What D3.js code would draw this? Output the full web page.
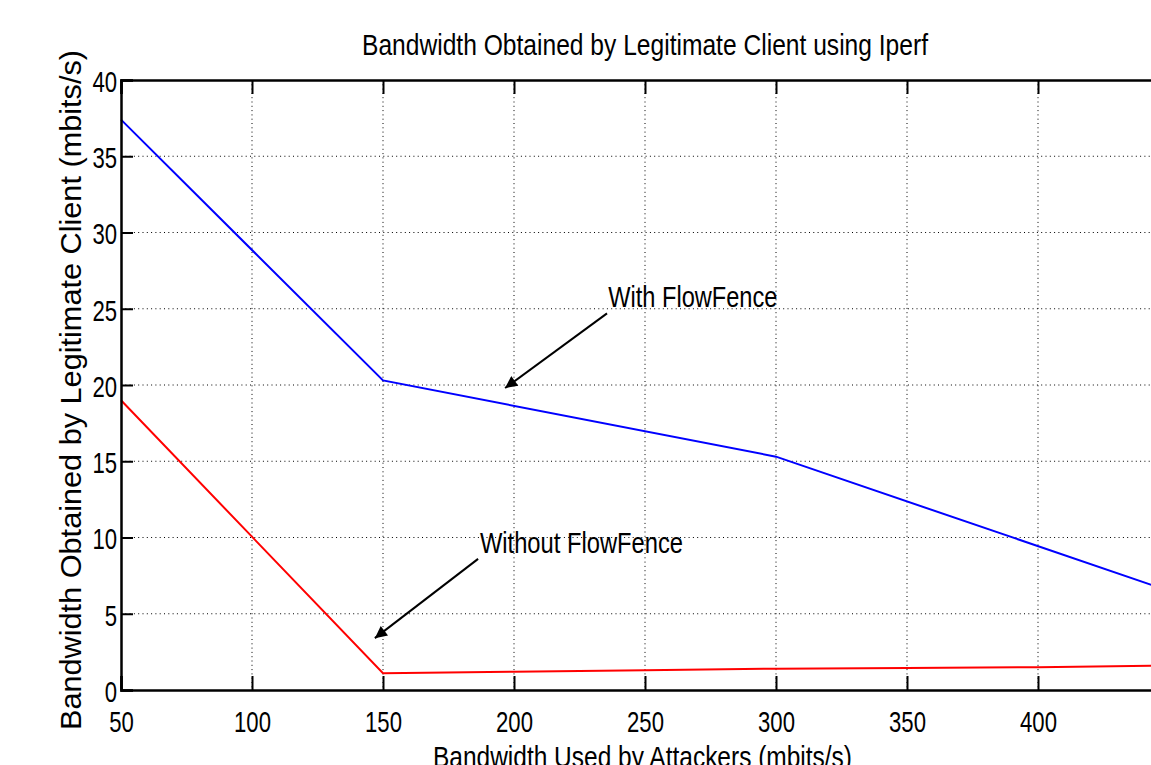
<!DOCTYPE html>
<html><head><meta charset="utf-8">
<script src="https://cdn.jsdelivr.net/npm/d3@7"></script>
<style>
html,body{margin:0;padding:0;background:#fff;overflow:hidden}
text{font-family:"Liberation Sans",Arial,sans-serif;fill:#000}
</style></head><body>
<svg id="c" width="1151" height="765"></svg>
<script>
const attackerBw = [50, 150, 300, 450];
const withFlowFence = [37.4, 20.3, 15.3, 6.5];
const attackerBw2 = [50, 150, 200, 250, 300, 350, 400, 450];
const withoutFlowFence = [19.0, 1.1, 1.2, 1.3, 1.4, 1.45, 1.5, 1.6];
const xTicks = [50, 100, 150, 200, 250, 300, 350, 400, 450];
const xTickLabels = [50, 100, 150, 200, 250, 300, 350, 400];
const yTicks = [0, 5, 10, 15, 20, 25, 30, 35, 40];
const annotations = [
  {label: "With FlowFence", tx: 236, ty: 25.1, x1: 235.5, y1: 24.7, x2: 196.6, y2: 19.8, w: 169},
  {label: "Without FlowFence", tx: 187, ty: 9.0, x1: 186.3, y1: 8.6, x2: 146.9, y2: 3.4, w: 203}
];
const title = "Bandwidth Obtained by Legitimate Client using Iperf";
const xLabel = "Bandwidth Used by Attackers (mbits/s)";
const yLabel = "Bandwidth Obtained by Legitimate Client (mbits/s)";

const svg = d3.select("#c");
svg.append("rect").attr("width",1151).attr("height",765).attr("fill","#fff");
const L = 121, R = 1169, T = 80, B = 690;
const x = d3.scaleLinear().domain([50,450]).range([L,R]);
const y = d3.scaleLinear().domain([0,40]).range([B,T]);
const FS = 30, DIGIT = 12.3;

svg.append("defs").append("marker").attr("id","ah").attr("viewBox","0 0 10 10")
  .attr("refX",10).attr("refY",5).attr("markerWidth",15).attr("markerHeight",12)
  .attr("markerUnits","userSpaceOnUse").attr("orient","auto")
  .append("path").attr("d","M0,0L10,5L0,10Z").attr("fill","#000");

// grid
const g = svg.append("g");
g.selectAll(".gx").data(xTicks.filter(d=>d>50 && d<450)).join("line")
  .attr("x1",d=>x(d)).attr("x2",d=>x(d)).attr("y1",T).attr("y2",B)
  .attr("stroke","#000").attr("stroke-width",1).attr("stroke-dasharray","1,3.3");
g.selectAll(".gy").data(yTicks.filter(d=>d>0 && d<40)).join("line")
  .attr("x1",L).attr("x2",R).attr("y1",d=>y(d)).attr("y2",d=>y(d))
  .attr("stroke","#000").attr("stroke-width",1).attr("stroke-dasharray","1,3.3");

// lines
const line = d3.line().x(d=>x(d[0])).y(d=>y(d[1]));
svg.append("path").datum(attackerBw.map((d,i)=>[d,withFlowFence[i]]))
  .attr("d",line).attr("fill","none").attr("stroke","#0000ff").attr("stroke-width",2);
svg.append("path").datum(attackerBw2.map((d,i)=>[d,withoutFlowFence[i]]))
  .attr("d",line).attr("fill","none").attr("stroke","#ff0000").attr("stroke-width",2);

// axes
const ax = svg.append("g").attr("transform",`translate(0,${B})`)
  .call(d3.axisBottom(x).tickValues(xTicks).tickSize(-14).tickPadding(21)
    .tickFormat(d=>xTickLabels.includes(d)?String(d):""));
const axTop = svg.append("g").attr("transform",`translate(0,${T})`)
  .call(d3.axisTop(x).tickValues(xTicks).tickSize(-14).tickFormat(""));
const ay = svg.append("g").attr("transform",`translate(${L},0)`)
  .call(d3.axisLeft(y).tickValues(yTicks).tickSize(-12).tickPadding(4).tickFormat(d3.format("d")));
[ax,axTop,ay].forEach(a=>{
  a.select(".domain").attr("stroke","#000").attr("stroke-width",2.5);
  a.selectAll(".tick line").attr("stroke","#000").attr("stroke-width",2);
  a.selectAll("text").attr("font-size",FS).attr("fill","#000")
   .style("font-family",'"Liberation Sans",Arial,sans-serif')
   .each(function(){ const t=this.textContent; if(t.length){ d3.select(this).attr("textLength",t.length*DIGIT).attr("lengthAdjust","spacingAndGlyphs"); }});
});
ax.selectAll("text").attr("dy","0.71em");
ay.selectAll("text").attr("dy","0.38em");

// annotations
annotations.forEach(a=>{
  svg.append("line").attr("x1",x(a.x1)).attr("y1",y(a.y1)).attr("x2",x(a.x2)).attr("y2",y(a.y2))
    .attr("stroke","#000").attr("stroke-width",2).attr("marker-end","url(#ah)");
  svg.append("text").attr("x",x(a.tx)).attr("y",y(a.ty)).attr("font-size",FS)
    .attr("textLength",a.w).attr("lengthAdjust","spacingAndGlyphs").text(a.label);
});

// titles
svg.append("text").attr("x",362).attr("y",55).attr("font-size",FS)
  .attr("textLength",566).attr("lengthAdjust","spacingAndGlyphs").text(title);
svg.append("text").attr("x",433).attr("y",767).attr("font-size",FS)
  .attr("textLength",419).attr("lengthAdjust","spacingAndGlyphs").text(xLabel);
svg.append("text").attr("transform","translate(81,730) rotate(-90)").attr("font-size",FS)
  .attr("textLength",680).attr("lengthAdjust","spacingAndGlyphs").text(yLabel);
</script></body></html>
